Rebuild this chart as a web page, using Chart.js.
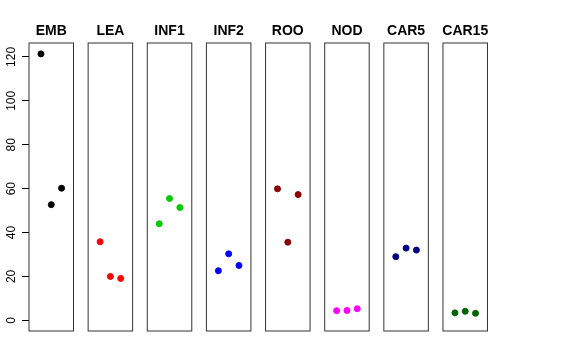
<!DOCTYPE html>
<html lang="en">
<head>
    <meta charset="UTF-8">
    <title>Panels</title>
    <script src="https://cdn.jsdelivr.net/npm/chart.js"></script>
    <style>
        body { margin: 0; background: #fff; }
        #wrap { position: relative; width: 576px; height: 360px; }
        #wrap canvas { position: absolute; left: 0; top: 0; }
    </style>
</head>
<body>
    <div id="wrap"></div>

    <script>
        // data
        const groups = ['EMB', 'LEA', 'INF1', 'INF2', 'ROO', 'NOD', 'CAR5', 'CAR15'];
        const colors = ['#000000', '#ff0000', '#00cd00', '#0000ff', '#8b0000', '#ff00ff', '#000080', '#006400'];
        const positions = [1, 2, 3];
        const EMB = [121.4, 52.7, 60.2];
        const LEA = [35.8, 20.0, 19.1];
        const INF1 = [44.0, 55.5, 51.4];
        const INF2 = [22.6, 30.3, 25.0];
        const ROO = [59.9, 35.6, 57.3];
        const NOD = [4.4, 4.5, 5.3];
        const CAR5 = [29.0, 32.9, 32.0];
        const CAR15 = [3.4, 4.1, 3.2];
        const values = [EMB, LEA, INF1, INF2, ROO, NOD, CAR5, CAR15];
        const yTicks = [0, 20, 40, 60, 80, 100, 120];

        const W = 576, H = 360;
        const firstLeft = 29, step = 59.14, panelW = 44.5;
        const panelTop = 43, panelBottom = 331;

        // frame + title of each panel
        const panelPlugin = {
            id: 'panelPlugin',
            afterDraw: (chart, args, opts) => {
                const { ctx, chartArea: a } = chart;
                ctx.save();
                ctx.strokeStyle = '#333';
                ctx.lineWidth = 1;
                ctx.strokeRect(a.left, a.top, a.right - a.left, a.bottom - a.top);
                ctx.fillStyle = '#000';
                ctx.font = 'bold 14px "Liberation Sans", Arial, sans-serif';
                ctx.textAlign = 'center';
                ctx.textBaseline = 'alphabetic';
                ctx.fillText(opts.title, (a.left + a.right) / 2, 35);
                ctx.restore();
            }
        };

        const wrap = document.getElementById('wrap');

        groups.forEach((g, i) => {
            const cv = document.createElement('canvas');
            cv.width = W;
            cv.height = H;
            wrap.appendChild(cv);

            const left = firstLeft + i * step;
            const withAxis = i === 0;

            new Chart(cv.getContext('2d'), {
                type: 'scatter',
                data: {
                    datasets: [{
                        data: positions.map((x, k) => ({ x: x, y: values[i][k] })),
                        backgroundColor: colors[i],
                        borderColor: colors[i],
                        pointRadius: 3,
                        pointHoverRadius: 3
                    }]
                },
                options: {
                    responsive: false,
                    animation: false,
                    events: [],
                    layout: {
                        padding: {
                            left: withAxis ? 0 : left,
                            right: W - left - panelW,
                            top: panelTop,
                            bottom: H - panelBottom
                        }
                    },
                    plugins: {
                        legend: { display: false },
                        tooltip: { enabled: false },
                        panelPlugin: { title: g }
                    },
                    scales: {
                        x: {
                            type: 'linear',
                            min: -0.16,
                            max: 4.16,
                            display: false
                        },
                        y: {
                            type: 'linear',
                            min: -4.86,
                            max: 126.36,
                            display: withAxis,
                            afterBuildTicks: (scale) => {
                                scale.ticks = yTicks.map(v => ({ value: v }));
                            },
                            afterFit: (scale) => { scale.width = withAxis ? firstLeft : 0; },
                            border: { display: false },
                            grid: {
                                drawOnChartArea: false,
                                drawTicks: true,
                                tickLength: 7,
                                color: '#000'
                            },
                            ticks: {
                                minRotation: 90,
                                maxRotation: 90,
                                crossAlign: 'center',
                                padding: 0,
                                color: '#000',
                                font: { family: '"Liberation Sans", Arial, sans-serif', size: 12 }
                            }
                        }
                    }
                },
                plugins: [panelPlugin]
            });
        });
    </script>
</body>
</html>
